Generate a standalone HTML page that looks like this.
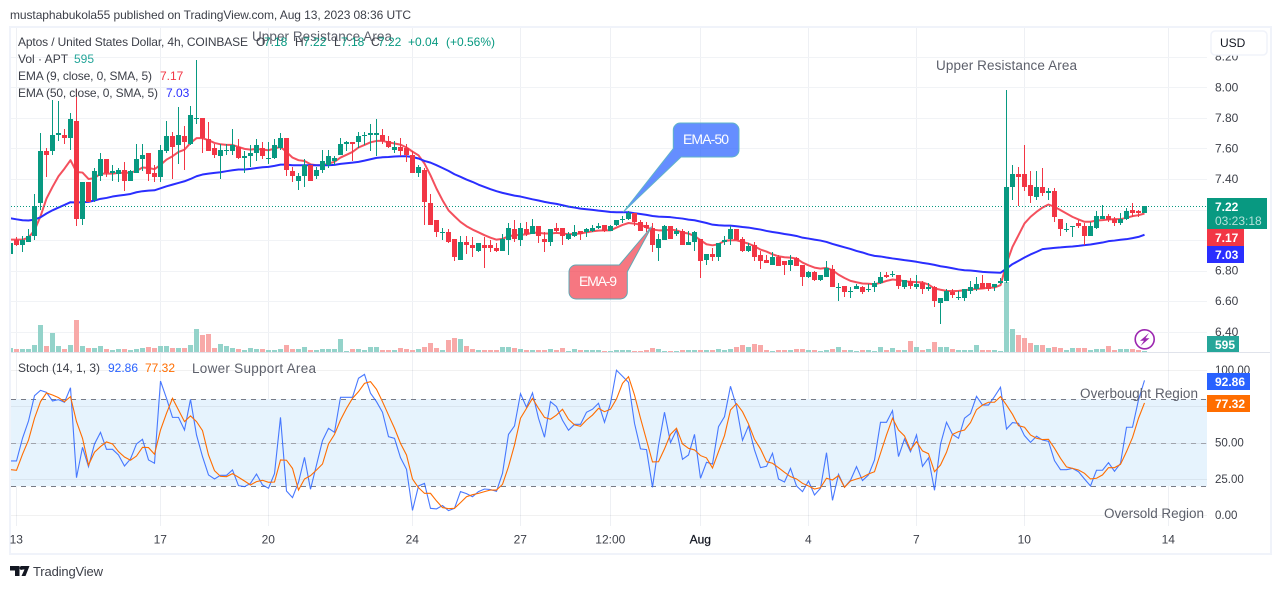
<!DOCTYPE html>
<html lang="en">
<head>
<meta charset="utf-8">
<title>APT/USD 4h chart</title>
<style>
html,body{margin:0;padding:0;background:#fff;width:1281px;height:589px;overflow:hidden}
svg{display:block;font-family:"Liberation Sans",Arial,sans-serif}
text{font-size:12px;fill:#4a4d57}
</style>
</head>
<body>
<svg id="chart" xmlns="http://www.w3.org/2000/svg" width="1281" height="589" viewBox="0 0 1281 589">
  <defs>
    <clipPath id="paneClip"><rect x="11" y="28" width="1196" height="324"></rect></clipPath>
    <clipPath id="stochClip"><rect x="11" y="353" width="1196" height="173"></rect></clipPath>
  </defs>
  <text x="10" y="19" textLength="401" style="font-size:12px;fill:#3c3f48">mustaphabukola55 published on TradingView.com, Aug 13, 2023 08:36 UTC</text>
  <rect x="10" y="27" width="1261" height="527" fill="#fff" stroke="#f0f3fa" stroke-width="2"></rect>
  <g id="gridLayer"></g>
  <rect id="stochBand" fill="#e6f3fd"></rect>
  <g id="stochGridLayer"></g>
  <line x1="11" x2="1270" y1="352.5" y2="352.5" stroke="#e0e3eb"></line>
  <g clip-path="url(#paneClip)">
    <g id="volLayer"></g>
    <g id="emaLayer"></g>
    <g id="priceLine"></g>
    <g id="candleLayer"></g>
  </g>
  <g clip-path="url(#stochClip)">
    <g id="stochLayer"></g>
  </g>
  <g id="axisLabels"></g>

  <rect x="1211" y="31" width="56" height="24" rx="4" fill="#fff" stroke="#f0f3fa" stroke-width="1.5"></rect>
  <text x="1220" y="47" style="fill:#131722">USD</text>

  <g>
    <text x="18" y="46" textLength="230" style="fill:#3c3f48">Aptos / United States Dollar, 4h, COINBASE</text>
    <text x="252" y="41" textLength="140" style="font-size:13.5px;fill:#5d606b">Upper Resistance Area</text>
    <text x="256" y="46" style="fill:#089981"><tspan x="256" style="fill:#3c3f48">O</tspan><tspan x="264">7.18</tspan><tspan x="295" style="fill:#3c3f48">H</tspan><tspan x="303">7.22</tspan><tspan x="334" style="fill:#3c3f48">L</tspan><tspan x="341">7.18</tspan><tspan x="371" style="fill:#3c3f48">C</tspan><tspan x="378">7.22</tspan><tspan x="408">+0.04</tspan><tspan x="446">(+0.56%)</tspan></text>
    <text x="18" y="63" style="fill:#3c3f48">Vol · APT<tspan x="74" style="fill:#26a69a">595</tspan></text>
    <text x="18" y="80" textLength="134" style="fill:#3c3f48">EMA (9, close, 0, SMA, 5)</text>
    <text x="160" y="80" style="fill:#f23645">7.17</text>
    <text x="18" y="97" textLength="140" style="fill:#3c3f48">EMA (50, close, 0, SMA, 5)</text>
    <text x="166" y="97" style="fill:#2a2eff">7.03</text>
    <text x="18" y="372" style="fill:#3c3f48">Stoch (14, 1, 3)<tspan x="108" style="fill:#2962ff">92.86</tspan><tspan x="145" style="fill:#ff6d00">77.32</tspan></text>
  </g>

  <text x="936" y="70" textLength="141" style="font-size:13.5px;fill:#5d606b">Upper Resistance Area</text>
  <text x="192" y="373" textLength="124" style="font-size:13.5px;fill:#5d606b">Lower Support Area</text>

  <g>
    <path d="M680.3 123H732a7 7 0 0 1 7 7V150a7 7 0 0 1 -7 7H681L623.3 212L673.3 148.5V130a7 7 0 0 1 7 -7Z" fill="#2962ff" fill-opacity=".72" stroke="#5fb4c8" stroke-width="1"></path>
    <text x="683" y="144" textLength="46" style="font-size:14px;fill:#fff">EMA-50</text>
  </g>
  <g>
    <path d="M576 265H619.3L651.7 226.6L627.3 271.7V292a7 7 0 0 1 -7 7H576a7 7 0 0 1 -7 -7V272a7 7 0 0 1 7 -7Z" fill="#f23645" fill-opacity=".68" stroke="#5fa8b4" stroke-width="1"></path>
    <text x="579" y="286" textLength="38" style="font-size:14px;fill:#fff">EMA-9</text>
  </g>

  <g>
    <circle cx="1144.7" cy="339.3" r="9.5" fill="#fff" stroke="#9c27b0" stroke-width="1.6"></circle>
    <path d="M1149 333L1140 340.8H1144L1140.5 346L1149.5 338.2H1145.5Z" fill="#9c27b0"></path>
  </g>

  <g>
    <rect x="1207" y="198" width="60" height="31" fill="#089981"></rect>
    <text x="1215" y="211" style="fill:#fff;font-weight:bold">7.22</text>
    <text x="1215" y="225" style="fill:#b5e2da">03:23:18</text>
    <rect x="1207" y="229" width="37" height="17" fill="#f23645"></rect>
    <text x="1215" y="242" style="fill:#fff;font-weight:bold">7.17</text>
    <rect x="1207" y="246" width="37" height="17" fill="#2a2eff"></rect>
    <text x="1215" y="259" style="fill:#fff;font-weight:bold">7.03</text>
    <rect x="1207" y="336" width="32" height="16" fill="#26a69a"></rect>
    <text x="1215" y="349" style="fill:#fff;font-weight:bold">595</text>
    <rect x="1207" y="373" width="43" height="17" fill="#2962ff"></rect>
    <text x="1215" y="386" style="fill:#fff;font-weight:bold">92.86</text>
    <rect x="1207" y="395" width="43" height="17" fill="#ff6d00"></rect>
    <text x="1215" y="408" style="fill:#fff;font-weight:bold">77.32</text>
  </g>

  <text x="1080" y="398" textLength="118" style="font-size:13.5px;fill:#5d606b">Overbought Region</text>
  <text x="1104" y="518" textLength="100" style="font-size:13.5px;fill:#5d606b">Oversold Region</text>

  <g>
    <path d="M10 566H19.5V576H15V570.5H10ZM21 566H29.5L25.5 576H21.5L24.5 569.5H21Z" fill="#131722"></path>
    <circle cx="21.5" cy="568" r="1.9" fill="#131722"></circle>
    <text x="33" y="576" textLength="70" style="font-size:13px;fill:#3c3f48">TradingView</text>
  </g>
</svg>

<script>
const opens = [
6.91,7.00,6.97,6.99,7.03,7.24,7.58,7.58,7.69,7.69,
7.67,7.78,7.14,7.38,7.26,7.42,7.53,7.44,7.43,7.46,
7.39,7.44,7.53,7.57,7.44,7.41,7.58,7.68,7.62,7.68,
7.63,7.79,7.80,7.66,7.60,7.55,7.58,7.58,7.61,7.54,
7.55,7.57,7.60,7.53,7.54,7.60,7.67,7.45,7.39,7.42,
7.49,7.42,7.46,7.49,7.52,7.56,7.63,7.64,7.64,7.68,
7.69,7.69,7.69,7.65,7.59,7.61,7.60,7.56,7.44,7.46,
7.24,7.13,7.05,7.05,7.01,6.87,6.99,6.97,6.93,6.97,
6.97,6.95,6.93,7.00,7.07,7.00,7.07,7.04,7.09,7.01,
6.99,7.08,7.08,7.01,7.03,7.06,7.05,7.06,7.08,7.10,
7.06,7.10,7.14,7.14,7.18,7.12,7.10,7.08,6.95,7.00,
7.09,7.04,7.06,6.97,6.99,7.01,6.87,6.91,6.89,6.99,
7.01,7.07,7.01,6.93,6.97,6.90,6.87,6.84,6.89,6.86,
6.84,6.88,6.84,6.76,6.79,6.74,6.76,6.81,6.69,6.70,
6.66,6.68,6.69,6.68,6.69,6.72,6.77,6.77,6.77,6.69,
6.73,6.69,6.72,6.68,6.69,6.59,6.60,6.66,6.62,6.62,
6.67,6.68,6.72,6.72,6.69,6.72,6.73,7.35,7.43,7.43,
7.36,7.28,7.35,7.31,7.32,7.14,7.07,7.09,7.11,7.09,
7.03,7.08,7.14,7.16,7.14,7.11,7.14,7.20,7.19,7.18];
const closes = [
6.98,6.97,7.00,7.03,7.22,7.58,7.56,7.69,7.70,7.67,
7.79,7.14,7.38,7.25,7.45,7.53,7.44,7.45,7.46,7.39,
7.45,7.53,7.56,7.43,7.41,7.59,7.68,7.61,7.69,7.64,
7.82,7.80,7.67,7.58,7.56,7.59,7.59,7.62,7.54,7.55,
7.57,7.62,7.55,7.54,7.62,7.67,7.46,7.42,7.42,7.49,
7.39,7.46,7.52,7.55,7.54,7.63,7.64,7.63,7.68,7.69,
7.70,7.70,7.65,7.61,7.61,7.58,7.56,7.44,7.48,7.25,
7.10,7.05,7.05,6.99,6.89,6.99,6.97,6.95,6.98,6.95,
6.95,6.93,7.01,7.08,7.01,7.08,7.04,7.09,7.03,6.99,
7.07,7.06,7.03,7.04,7.05,7.04,7.07,7.08,7.09,7.06,
7.09,7.13,7.14,7.18,7.12,7.06,7.08,6.97,7.01,7.09,
7.01,7.06,6.97,6.99,7.05,6.86,6.91,6.89,6.98,7.00,
7.07,7.00,6.93,6.96,6.89,6.86,6.85,6.89,6.83,6.84,
6.87,6.83,6.76,6.79,6.74,6.77,6.82,6.69,6.69,6.66,
6.67,6.70,6.66,6.68,6.72,6.76,6.76,6.78,6.70,6.74,
6.70,6.71,6.68,6.69,6.60,6.62,6.67,6.64,6.63,6.68,
6.69,6.71,6.68,6.68,6.71,6.73,7.35,7.43,7.41,7.35,
7.29,7.35,7.31,7.32,7.15,7.07,7.07,7.09,7.09,7.03,
7.09,7.16,7.16,7.13,7.11,7.14,7.19,7.18,7.18,7.22];
const highs = [
6.98,7.02,7.03,7.07,7.30,7.70,7.60,7.92,7.91,7.73,
7.83,7.99,7.38,7.38,7.47,7.57,7.53,7.49,7.47,7.51,
7.46,7.63,7.63,7.57,7.49,7.62,7.78,7.71,7.87,7.75,
7.88,8.18,7.80,7.77,7.63,7.63,7.63,7.73,7.66,7.58,
7.62,7.66,7.64,7.64,7.66,7.70,7.67,7.48,7.44,7.53,
7.49,7.48,7.59,7.59,7.55,7.67,7.65,7.64,7.71,7.71,
7.76,7.79,7.73,7.68,7.65,7.67,7.63,7.58,7.49,7.47,
7.30,7.13,7.08,7.07,7.01,7.03,7.03,7.02,6.98,7.02,
7.00,6.98,7.04,7.11,7.13,7.11,7.12,7.14,7.09,7.05,
7.07,7.11,7.08,7.05,7.10,7.06,7.08,7.10,7.11,7.10,
7.10,7.13,7.16,7.19,7.18,7.13,7.12,7.11,7.04,7.10,
7.09,7.08,7.07,7.06,7.06,7.01,6.91,6.95,6.98,7.03,
7.09,7.07,7.02,6.98,6.99,6.93,6.90,6.92,6.90,6.86,
6.90,6.89,6.84,6.80,6.80,6.77,6.86,6.84,6.72,6.70,
6.69,6.71,6.70,6.71,6.73,6.79,6.79,6.80,6.77,6.74,
6.75,6.77,6.73,6.72,6.70,6.62,6.68,6.68,6.67,6.68,
6.73,6.76,6.77,6.72,6.71,6.75,7.98,7.49,7.48,7.62,
7.45,7.45,7.47,7.34,7.34,7.14,7.11,7.09,7.13,7.11,
7.12,7.19,7.23,7.17,7.15,7.18,7.21,7.24,7.20,7.22];
const lows = [
6.91,6.96,6.92,6.99,7.00,7.20,7.41,7.56,7.65,7.63,
7.59,7.09,7.10,7.25,7.25,7.39,7.41,7.39,7.38,7.32,
7.39,7.44,7.45,7.39,7.38,7.38,7.57,7.40,7.50,7.46,
7.62,7.76,7.57,7.58,7.54,7.40,7.56,7.56,7.53,7.44,
7.48,7.52,7.53,7.50,7.53,7.59,7.42,7.38,7.33,7.35,
7.39,7.40,7.44,7.47,7.49,7.56,7.58,7.52,7.60,7.62,
7.58,7.55,7.63,7.60,7.57,7.55,7.51,7.44,7.41,7.10,
7.10,7.02,7.00,6.98,6.86,6.87,6.91,6.89,6.92,6.82,
6.92,6.92,6.93,6.90,6.99,6.96,7.03,7.04,6.98,6.92,
6.96,7.05,6.97,7.00,7.02,7.00,7.02,7.05,7.07,7.05,
7.06,7.09,7.11,7.13,7.09,7.06,7.05,6.92,6.86,7.00,
7.01,7.03,6.97,6.97,6.93,6.75,6.84,6.86,6.86,6.97,
6.97,7.00,6.92,6.92,6.86,6.81,6.85,6.84,6.83,6.77,
6.80,6.83,6.70,6.75,6.73,6.73,6.76,6.69,6.60,6.63,
6.62,6.68,6.65,6.66,6.66,6.71,6.75,6.76,6.68,6.68,
6.68,6.68,6.65,6.67,6.56,6.45,6.60,6.62,6.61,6.60,
6.65,6.67,6.68,6.67,6.67,6.71,6.72,7.26,7.22,7.32,
7.24,7.26,7.29,7.26,7.12,7.03,7.05,7.02,7.08,6.97,
7.03,7.07,7.14,7.12,7.09,7.10,7.13,7.15,7.15,7.18];
const volumes = [
1470,1200,1200,1200,2800,10800,2400,7600,2400,1200,
2800,12800,2400,1600,1600,2400,1200,800,1200,1200,
800,1200,1600,2000,1600,2400,2400,1600,1600,1600,
2800,9200,6800,7200,1600,3200,2400,1600,1200,800,
1600,1200,1200,800,800,1200,2800,1200,1200,2000,
800,800,1200,1200,1200,5200,400,1200,1200,800,
2000,2000,800,800,800,1600,1200,800,1200,2000,
3470,1600,800,4800,5600,5200,2400,1200,800,800,
800,800,2000,2000,1600,1200,800,800,800,800,
1200,800,1600,400,1200,800,800,800,800,400,
400,800,800,800,400,400,800,1600,1200,400,
400,400,800,800,800,800,800,800,1200,800,
1200,2000,2800,2000,3200,2800,800,400,800,800,
800,1200,1200,800,800,400,800,1200,2000,800,
800,400,800,800,400,2000,800,1600,800,800,
4400,2000,800,1200,4000,2000,2000,1200,800,800,
800,2800,800,800,800,400,28000,9200,6800,5600,
3600,2800,2800,1600,2000,1600,800,1600,1600,1600,
800,1200,1200,2400,800,1200,1200,1200,800,595];
const ema9 = [
7.003,7.003,7.003,7.016,7.064,7.156,7.272,7.348,7.418,7.468,
7.523,7.446,7.442,7.400,7.405,7.435,7.435,7.435,7.440,7.440,
7.442,7.453,7.475,7.472,7.464,7.492,7.527,7.549,7.577,7.592,
7.636,7.667,7.667,7.654,7.636,7.627,7.623,7.623,7.610,7.597,
7.592,7.597,7.592,7.588,7.599,7.610,7.577,7.540,7.523,7.518,
7.496,7.490,7.490,7.501,7.512,7.540,7.558,7.577,7.606,7.623,
7.640,7.649,7.649,7.640,7.632,7.625,7.606,7.579,7.555,7.501,
7.424,7.337,7.261,7.195,7.156,7.119,7.091,7.069,7.051,7.032,
7.016,7.003,7.008,7.025,7.032,7.034,7.038,7.049,7.047,7.043,
7.043,7.047,7.043,7.038,7.040,7.043,7.051,7.058,7.062,7.064,
7.064,7.082,7.099,7.112,7.108,7.101,7.082,7.069,7.064,7.064,
7.069,7.064,7.049,7.043,7.027,6.999,6.973,6.966,6.973,6.995,
6.999,6.999,6.988,6.977,6.960,6.938,6.925,6.907,6.894,6.888,
6.885,6.879,6.853,6.835,6.820,6.813,6.818,6.803,6.774,6.752,
6.733,6.724,6.716,6.714,6.712,6.720,6.733,6.742,6.738,6.731,
6.727,6.725,6.723,6.709,6.683,6.675,6.668,6.666,6.668,6.672,
6.677,6.681,6.683,6.688,6.690,6.705,6.847,6.956,7.032,7.109,
7.152,7.185,7.213,7.233,7.218,7.196,7.174,7.152,7.135,7.120,
7.120,7.128,7.131,7.135,7.137,7.137,7.146,7.157,7.163,7.174];
const ema50 = [
7.143,7.136,7.130,7.128,7.134,7.149,7.174,7.195,7.213,7.230,
7.248,7.246,7.248,7.250,7.259,7.270,7.276,7.285,7.291,7.296,
7.302,7.313,7.320,7.324,7.326,7.339,7.352,7.363,7.374,7.385,
7.400,7.418,7.429,7.435,7.440,7.444,7.451,7.457,7.462,7.462,
7.466,7.472,7.477,7.479,7.486,7.494,7.494,7.490,7.490,7.490,
7.490,7.490,7.490,7.490,7.492,7.499,7.503,7.507,7.512,7.520,
7.529,7.538,7.542,7.544,7.547,7.549,7.549,7.544,7.534,7.518,
7.507,7.490,7.472,7.453,7.431,7.414,7.396,7.381,7.363,7.348,
7.333,7.320,7.309,7.300,7.291,7.285,7.276,7.267,7.259,7.250,
7.243,7.237,7.228,7.219,7.213,7.206,7.202,7.198,7.193,7.189,
7.184,7.182,7.182,7.182,7.176,7.171,7.165,7.158,7.154,7.152,
7.150,7.145,7.141,7.134,7.130,7.121,7.112,7.101,7.097,7.095,
7.095,7.091,7.086,7.082,7.075,7.069,7.060,7.053,7.047,7.040,
7.034,7.027,7.016,7.010,7.003,6.997,6.988,6.975,6.964,6.953,
6.942,6.929,6.919,6.906,6.897,6.893,6.886,6.880,6.875,6.869,
6.864,6.858,6.851,6.845,6.838,6.829,6.823,6.816,6.808,6.803,
6.801,6.797,6.792,6.790,6.788,6.786,6.814,6.843,6.864,6.886,
6.906,6.923,6.941,6.945,6.949,6.952,6.956,6.958,6.962,6.967,
6.971,6.978,6.984,6.993,6.997,7.002,7.006,7.013,7.021,7.035];
const stochK = [
37.4,37.4,53,64.9,82.3,86,84.6,78.7,79.6,77.8,
87.8,25.9,46.8,33.5,49.1,57.1,45.4,45.4,41.5,33.9,
38.8,49.1,52.3,38.1,35.8,92.4,80.5,67.4,67.4,58.7,
79.8,55.3,40.4,27.8,25,27.5,27.5,31.2,20.4,19.7,
22,28.4,20.9,18.6,28.7,67.4,16.7,12.2,22.7,39.9,
17.9,34.6,51.4,59.9,57.1,81.2,81.2,81.2,94.3,97,
84,78.2,70.9,54.1,53,39.7,31.7,3.4,20.2,22,
4.8,4.4,6.7,3.2,4.8,16.3,14.9,12.8,16.3,18.1,
17.7,16.5,28.9,55.7,61.5,83.7,74.3,84.2,66.8,53.7,
78.2,74.8,65.4,58.5,62.6,62.6,70.9,73,77.1,64,
77.1,99.8,95.7,91.5,63.3,45.7,45.2,19.3,47.9,70.9,
50,58.7,38.5,41.5,55.7,25.5,36.5,35.3,61,67.9,
88.8,74.8,51.6,61.5,45,32.8,33.7,42.7,25,22.9,
32.3,20.2,16.3,23.6,14,18.6,43.1,10.3,28.2,19.3,
24.1,33.5,23.9,27.8,38.1,64,64,72,40.4,52.5,
43.8,55.3,33.7,39.5,17.2,48.9,64,55.7,53,66.8,
70,81.9,75.9,75.9,81.7,88.1,59.4,63.8,63.3,54.8,
50.2,54.4,51.8,50.9,37.6,31.4,31.4,32.3,30,25,
20.2,31,31,36.2,30.3,35.8,60.6,60.6,79.4,92.86];
const stochD = [
31.4,31,42,51.8,66.8,78.2,84.2,82.8,81,78.2,
81.7,64.5,53,34.6,43.4,47.3,50.5,49.1,43.8,40.1,
37.9,40.8,46.8,46.6,42,58.7,70.2,80.5,72.5,64.5,
68.4,64.5,58.3,41.5,30.7,26.8,26.6,28.7,26.2,23.6,
20.9,23.2,24.1,22.7,22.9,38.1,37.9,32.3,17.4,25,
27.3,31.2,35.3,49.1,55.7,65.6,73.6,80.5,85.1,90.8,
92,86.7,78.2,69,59.9,49.5,41.5,25,19,15.1,
15.1,9.9,5.3,4.6,4.8,8.7,12.8,14.2,15.1,16.3,
17.4,17.4,21.3,33.5,48.4,66.8,73.6,80.5,73.6,67.4,
66.1,69,73,66.1,62.2,61.3,65.6,69,73.6,71.3,
73,80.1,90.8,95.4,82.8,66.8,51.8,36.7,36.9,45.7,
55.7,59.9,49.1,46.1,45,41.1,39.5,32.6,43.8,54.8,
72.5,76.9,71.3,62.9,52.3,45.7,36.9,35.8,32.8,29.6,
26.6,25,22,20.2,18.1,19,25.5,24.3,27.3,19.3,
23.6,25,26.2,28.4,30,42.7,55.3,66.8,58.7,54.6,
45,50.7,44.3,42.4,30,34.6,43.4,55.7,57.6,58.7,
63.8,72.7,75.9,77.8,77.8,81.7,75.9,69.5,61.7,60.6,
55.3,53,52.1,52.3,46.1,39.2,33.3,32.3,31.2,28.9,
25,25.5,27.8,32.8,32.8,35.1,43.8,53.5,66.8,77.32];
const priceTicks = [8.2,8.0,7.8,7.6,7.4,7.2,7.0,6.8,6.6,6.4];
const stochTicks = [100,75,50,25,0];
const stochLevels = [80,50,20];
const stochBandRange = [80,20];
const timeTickBars = [1,25,43,67,85,100,115,133,151,169,193];
const timeTickLabels = ["13","17","20","24","27","12:00","Aug","4","7","10","14"];
const lastPrice = 7.22;

const NS = "http://www.w3.org/2000/svg";
function xOf(i){ return 10.3 + 6 * i; }
function yPrice(p){ return 87.3 + (8 - p) * 152.8; }
function yVol(v){ return 352 - v / 400; }
function yStoch(s){ return 515.3 - s * 1.453; }
function mk(tag, attrs, parent){
  const e = document.createElementNS(NS, tag);
  for (const k in attrs) e.setAttribute(k, attrs[k]);
  parent.appendChild(e);
  return e;
}
const GREEN = "#089981", RED = "#f23645";
const gridLayer = document.getElementById("gridLayer");
const stochGridLayer = document.getElementById("stochGridLayer");
const axisLabels = document.getElementById("axisLabels");

timeTickBars.forEach(function(b, n){
  const x = Math.floor(xOf(b)) + 0.5;
  const v = mk("line", {x1:x, x2:x, y1:28, y2:526, stroke:"#eef0f4"}, gridLayer);
  
  
  const t = mk("text", {x:xOf(b), y:543.5, "text-anchor":"middle", style:"fill:#3c3f48"}, axisLabels);
  
  
  t.textContent = timeTickLabels[n];
  if (timeTickLabels[n] === "Aug") t.setAttribute("style", "fill:#131722;stroke:#131722;stroke-width:.25");
});
priceTicks.forEach(function(p){
  const y = Math.round(yPrice(p)) + 0.5;
  const h = mk("line", {x1:11, x2:1207, y1:y, y2:y, stroke:"#f1f3f6"}, gridLayer);
  
  
  const t = mk("text", {x:1215, y:yPrice(p) + 4, style:"fill:#3c3f48"}, axisLabels);
  
  
  t.textContent = p.toFixed(2);
});
const band = document.getElementById("stochBand");
band.setAttribute("x", 11);
band.setAttribute("width", 1196);
band.setAttribute("y", yStoch(stochBandRange[0]));
band.setAttribute("height", yStoch(stochBandRange[1]) - yStoch(stochBandRange[0]));
stochTicks.forEach(function(s){
  const y = Math.round(yStoch(s)) + 0.5;
  const h = mk("line", {x1:11, x2:1207, y1:y, y2:y, stroke:"#000", "stroke-opacity":.055}, stochGridLayer);
  
  
  const t = mk("text", {x:1215, y:yStoch(s) + 3.8, style:"font-size:11.5px;fill:#3c3f48"}, axisLabels);
  
  
  t.textContent = s.toFixed(2);
});
stochLevels.forEach(function(s){
  const y = Math.round(yStoch(s)) + 0.5;
  const h = mk("line", {x1:11, x2:1207, y1:y, y2:y, stroke:s === 50 ? "#a0a3ac" : "#787b86", "stroke-dasharray":"5 5"}, stochGridLayer);
  
  
});

const volLayer = document.getElementById("volLayer");
volumes.forEach(function(v, i){
  const y = Math.min(Math.round(yVol(v)), 351);
  const r = mk("rect", {x:Math.floor(xOf(i)) - 2, y:y, width:5, height:352 - y, fill:closes[i] >= opens[i] ? "#94d3ca" : "#f8a9a8"}, volLayer);
  
  
});

function linePath(values, yFn){
  return values.map(function(v, i){ return (i ? "L" : "M") + (Math.floor(xOf(i)) + 0.5) + " " + yFn(v).toFixed(2); }).join("");
}
const emaLayer = document.getElementById("emaLayer");
const e9 = mk("path", {d:linePath(ema9, yPrice), fill:"none", stroke:"#f4505d", "stroke-width":2, "stroke-linejoin":"round"}, emaLayer);


const e50 = mk("path", {d:linePath(ema50, yPrice), fill:"none", stroke:"#2a2eff", "stroke-width":2, "stroke-linejoin":"round"}, emaLayer);



const ply = Math.floor(yPrice(lastPrice)) + 0.5;
const pl = mk("line", {x1:11, x2:1207, y1:ply, y2:ply, stroke:GREEN, "stroke-dasharray":"1 2"}, document.getElementById("priceLine"));



const candleLayer = document.getElementById("candleLayer");
opens.forEach(function(o, i){
  const c = closes[i], col = c >= o ? GREEN : RED, x = Math.floor(xOf(i));
  const w = mk("rect", {x:x, y:Math.round(yPrice(highs[i])), width:1, height:Math.max(Math.round(yPrice(lows[i])) - Math.round(yPrice(highs[i])), 1), fill:col}, candleLayer);
  
  
  const top = Math.round(yPrice(Math.max(o, c))), bot = Math.round(yPrice(Math.min(o, c)));
  const b = mk("rect", {x:x - 2, y:top, width:5, height:Math.max(bot - top, 1), fill:col}, candleLayer);
  
  
});

const stochLayer = document.getElementById("stochLayer");
const kLine = mk("path", {d:linePath(stochK, yStoch), fill:"none", stroke:"#2962ff", "stroke-width":1.1, "stroke-opacity":.85}, stochLayer);


const dLine = mk("path", {d:linePath(stochD, yStoch), fill:"none", stroke:"#ff6d00", "stroke-width":1.1}, stochLayer);


</script>
</body>
</html>
